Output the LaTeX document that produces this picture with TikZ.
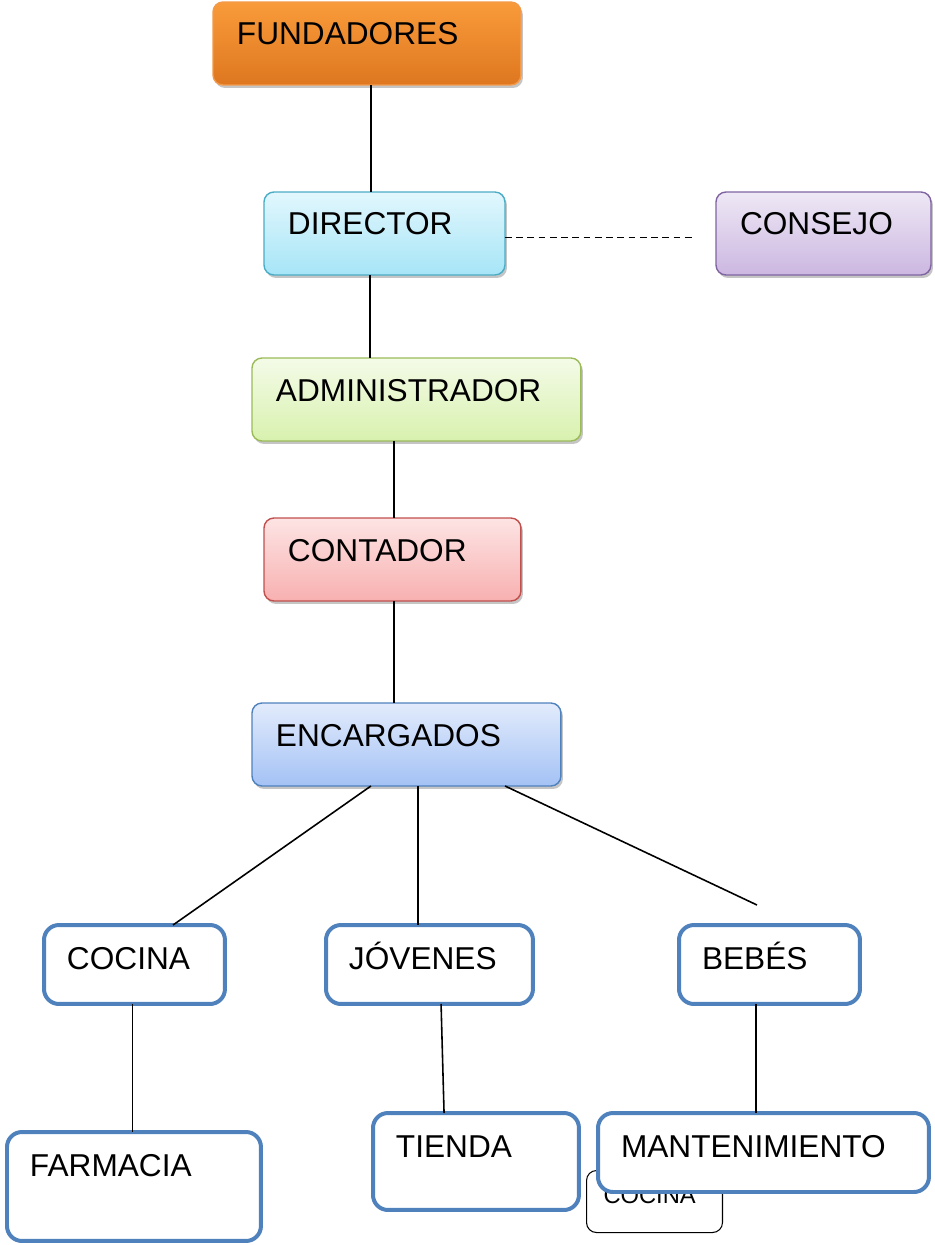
\documentclass[tikz,border=0pt]{standalone}
\usepackage{fontspec}
\setmainfont{Liberation Sans}
\usetikzlibrary{calc,shadows}
\definecolor{fundtop}{HTML}{F99B3A}
\definecolor{fundbot}{HTML}{DE7720}
\definecolor{fundline}{HTML}{F29A4A}
\definecolor{dirtop}{HTML}{E2F7FD}
\definecolor{dirbot}{HTML}{A6E5F7}
\definecolor{dirline}{HTML}{4BACC6}
\definecolor{constop}{HTML}{EEE8F5}
\definecolor{consbot}{HTML}{CCB7E1}
\definecolor{consline}{HTML}{8064A2}
\definecolor{admtop}{HTML}{F4FBE8}
\definecolor{admbot}{HTML}{D8F1AE}
\definecolor{admline}{HTML}{9BBB59}
\definecolor{conttop}{HTML}{FDE4E4}
\definecolor{contbot}{HTML}{F8B0B0}
\definecolor{contline}{HTML}{C0504D}
\definecolor{enctop}{HTML}{E2EBFC}
\definecolor{encbot}{HTML}{A4C2F5}
\definecolor{encline}{HTML}{4F81BD}
\definecolor{areablue}{HTML}{4F81BD}
\tikzset{
	cargo/.style={draw=#1, line width=0.8pt, rounded corners=0.2cm, anchor=north west,
		outer sep=0pt, align=left, inner xsep=0.48cm, inner ysep=0pt, text height=0.86cm,
		text depth=0.80cm, font=\fontsize{18}{21}\selectfont,
		drop shadow={shadow xshift=0.04cm, shadow yshift=-0.06cm, fill=black!45}},
	area/.style={draw=areablue, line width=0.08cm, fill=white, rounded corners=0.3cm,
		anchor=north west, outer sep=0pt, align=left, inner xsep=0.46cm, inner ysep=0pt,
		text height=0.88cm, text depth=#1, font=\fontsize{18}{21}\selectfont},
	enlace/.style={draw=black, line width=0.9pt},
	enlacedash/.style={draw=black, line width=1.1pt, dash pattern=on 3.8pt off 2.6pt},
}
\begin{document}
\begin{tikzpicture}[x=0.02cm, y=-0.02cm]
		\useasboundingbox (0,0) rectangle (934,1245);
		% cargos
		\node[cargo=fundline, top color=fundtop, bottom color=fundbot, text width=5.20cm] (fund) at (213,2) {FUNDADORES};
		\node[cargo=dirline, top color=dirtop, bottom color=dirbot, text width=3.86cm] (dir) at (264,192) {DIRECTOR};
		\node[cargo=consline, top color=constop, bottom color=consbot, text width=3.34cm] (cons) at (716,192) {CONSEJO};
		\node[cargo=admline, top color=admtop, bottom color=admbot, text width=5.62cm] (adm) at (252,358) {ADMINISTRADOR};
		\node[cargo=contline, top color=conttop, bottom color=contbot, text width=4.18cm] (cont) at (264,518) {CONTADOR};
		\node[cargo=encline, top color=enctop, bottom color=encbot, text width=5.22cm] (enc) at (252,703) {ENCARGADOS};
		% areas
		\node[area=0.70cm, text width=2.70cm] (coc) at (44,925) {COCINA};
		\node[area=0.70cm, text width=3.22cm] (jov) at (326,925) {JÓVENES};
		\node[area=0.70cm, text width=2.70cm] (beb) at (679,925) {BEBÉS};
		\node[area=1.30cm, text width=4.16cm] (farm) at (7,1132) {FARMACIA};
		\node[area=1.06cm, text width=3.20cm] (tien) at (373,1113) {TIENDA};
		\node[draw=black, line width=0.6pt, rounded corners=0.2cm, anchor=north west, align=left,
			inner xsep=0.34cm, inner ysep=0pt, text height=0.66cm, text depth=0.58cm,
			text width=2.04cm, font=\fontsize{13.5}{16}\selectfont] (coc2) at (586,1170) {COCINA};
		\node[area=0.70cm, text width=5.70cm] (mant) at (598,1113) {MANTENIMIENTO};
		\coordinate (bebfin) at (757,905);
		% lineas
		\draw[enlace] ($(fund.south west)!.513!(fund.south east)$) coordinate (a1) -- (a1 |- dir.north);
		\draw[enlace] ($(dir.south west)!.44!(dir.south east)$) coordinate (a2) -- (a2 |- adm.north);
		\draw[enlace] ($(adm.south west)!.432!(adm.south east)$) coordinate (a3) -- (a3 |- cont.north);
		\draw[enlace] ($(cont.south west)!.506!(cont.south east)$) coordinate (a4) -- (a4 |- enc.north);
		\draw[enlacedash] ($(dir.east)+(0,4)$) -- ($(cons.west)+(-21,4)$);
		\draw[enlace] ($(enc.south west)!.385!(enc.south east)$) -- ($(coc.north west)!.713!(coc.north east)$);
		\draw[enlace] ($(enc.south west)!.537!(enc.south east)$) coordinate (a5) -- (a5 |- jov.north);
		\draw[enlace] ($(enc.south west)!.819!(enc.south east)$) -- (bebfin);
		\draw[enlace] ($(coc.south west)!.49!(coc.south east)$) coordinate (a6) -- (a6 |- farm.north);
		\draw[enlace] ($(jov.south west)!.556!(jov.south east)$) -- ($(tien.north west)!.345!(tien.north east)$);
		\draw[enlace] ($(beb.south west)!.425!(beb.south east)$) coordinate (a7) -- (a7 |- mant.north);
\end{tikzpicture}
\end{document}
